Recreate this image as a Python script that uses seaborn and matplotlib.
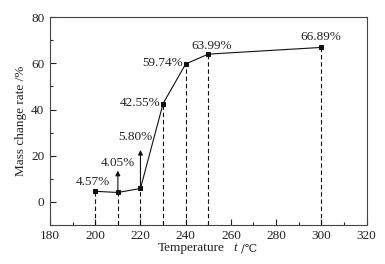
import matplotlib
matplotlib.use('Agg')
import matplotlib.pyplot as plt
import seaborn as sns
import pandas as pd
from matplotlib.ticker import MultipleLocator

temperature = [200, 210, 220, 230, 240, 250, 300]
mass_change = [4.57, 4.05, 5.80, 42.55, 59.74, 63.99, 66.89]
labels = ['4.57%', '4.05%', '5.80%', '42.55%', '59.74%', '63.99%', '66.89%']
arrow_tops = {210: 13.5, 220: 22.5}

sns.set_theme(style='ticks')
plt.rcParams['font.family'] = ['Liberation Serif', 'DejaVu Serif']

df = pd.DataFrame({'t': temperature, 'rate': mass_change})

fig, ax = plt.subplots(figsize=(3.85, 2.64), dpi=100)
sns.lineplot(data=df, x='t', y='rate', ax=ax, color='#111111', linewidth=0.8,
             marker='s', markersize=3.2, markeredgecolor='#111111')

# dashed drop lines
for t, v in zip(temperature, mass_change):
    ax.plot([t, t], [-10, v], linestyle=(0, (4, 2.5)), color='#111111', linewidth=0.8)

# arrows
for t, top in arrow_tops.items():
    v = mass_change[temperature.index(t)]
    ax.annotate('', xy=(t, top), xytext=(t, v),
                arrowprops=dict(arrowstyle='-|>', color='#111111', lw=0.8,
                                mutation_scale=7, shrinkA=0, shrinkB=0))

# value labels
label_pos = [(199, 8.7, 'center'), (209.8, 17, 'center'), (217.8, 28.2, 'center'),
             (229, 43, 'right'), (239, 60.3, 'right'), (251.3, 67.6, 'center'),
             (299.8, 71.4, 'center')]
for (x, y, ha), s in zip(label_pos, labels):
    ax.text(x, y, s, ha=ha, va='center', fontsize=9.5, color='#222222')

ax.set_xlim(180, 320)
ax.set_ylim(-10, 80)
ax.xaxis.set_major_locator(MultipleLocator(20))
ax.xaxis.set_minor_locator(MultipleLocator(10))
ax.yaxis.set_major_locator(MultipleLocator(20))
ax.yaxis.set_minor_locator(MultipleLocator(10))
ax.set_yticks([0, 20, 40, 60, 80])
ax.tick_params(direction='in', which='major', length=4, width=0.8, labelsize=9.5,
               colors='#222222', pad=4)
ax.tick_params(direction='in', which='minor', length=2, width=0.8)
for sp in ax.spines.values():
    sp.set_color('#444444')
    sp.set_linewidth(0.8)

# x label in pieces: upright text, italic symbol, unit
ax.set_xlabel('')
fig.text(0.411, 0.06, 'Temperature', ha='left', va='center', fontsize=9.5, color='#222222')
fig.text(0.605, 0.06, 't', ha='left', va='center', fontsize=9.5, color='#222222',
         style='italic')
fig.text(0.625, 0.06, '/℃', ha='left', va='center', fontsize=8, color='#222222',
         family=['DejaVu Serif', 'DejaVu Sans'])
ax.set_ylabel('Mass change rate /%', fontsize=9.5, color='#222222', labelpad=3)

fig.subplots_adjust(left=0.13, right=0.952, top=0.935, bottom=0.148)
fig.savefig('out.png', dpi=100)
